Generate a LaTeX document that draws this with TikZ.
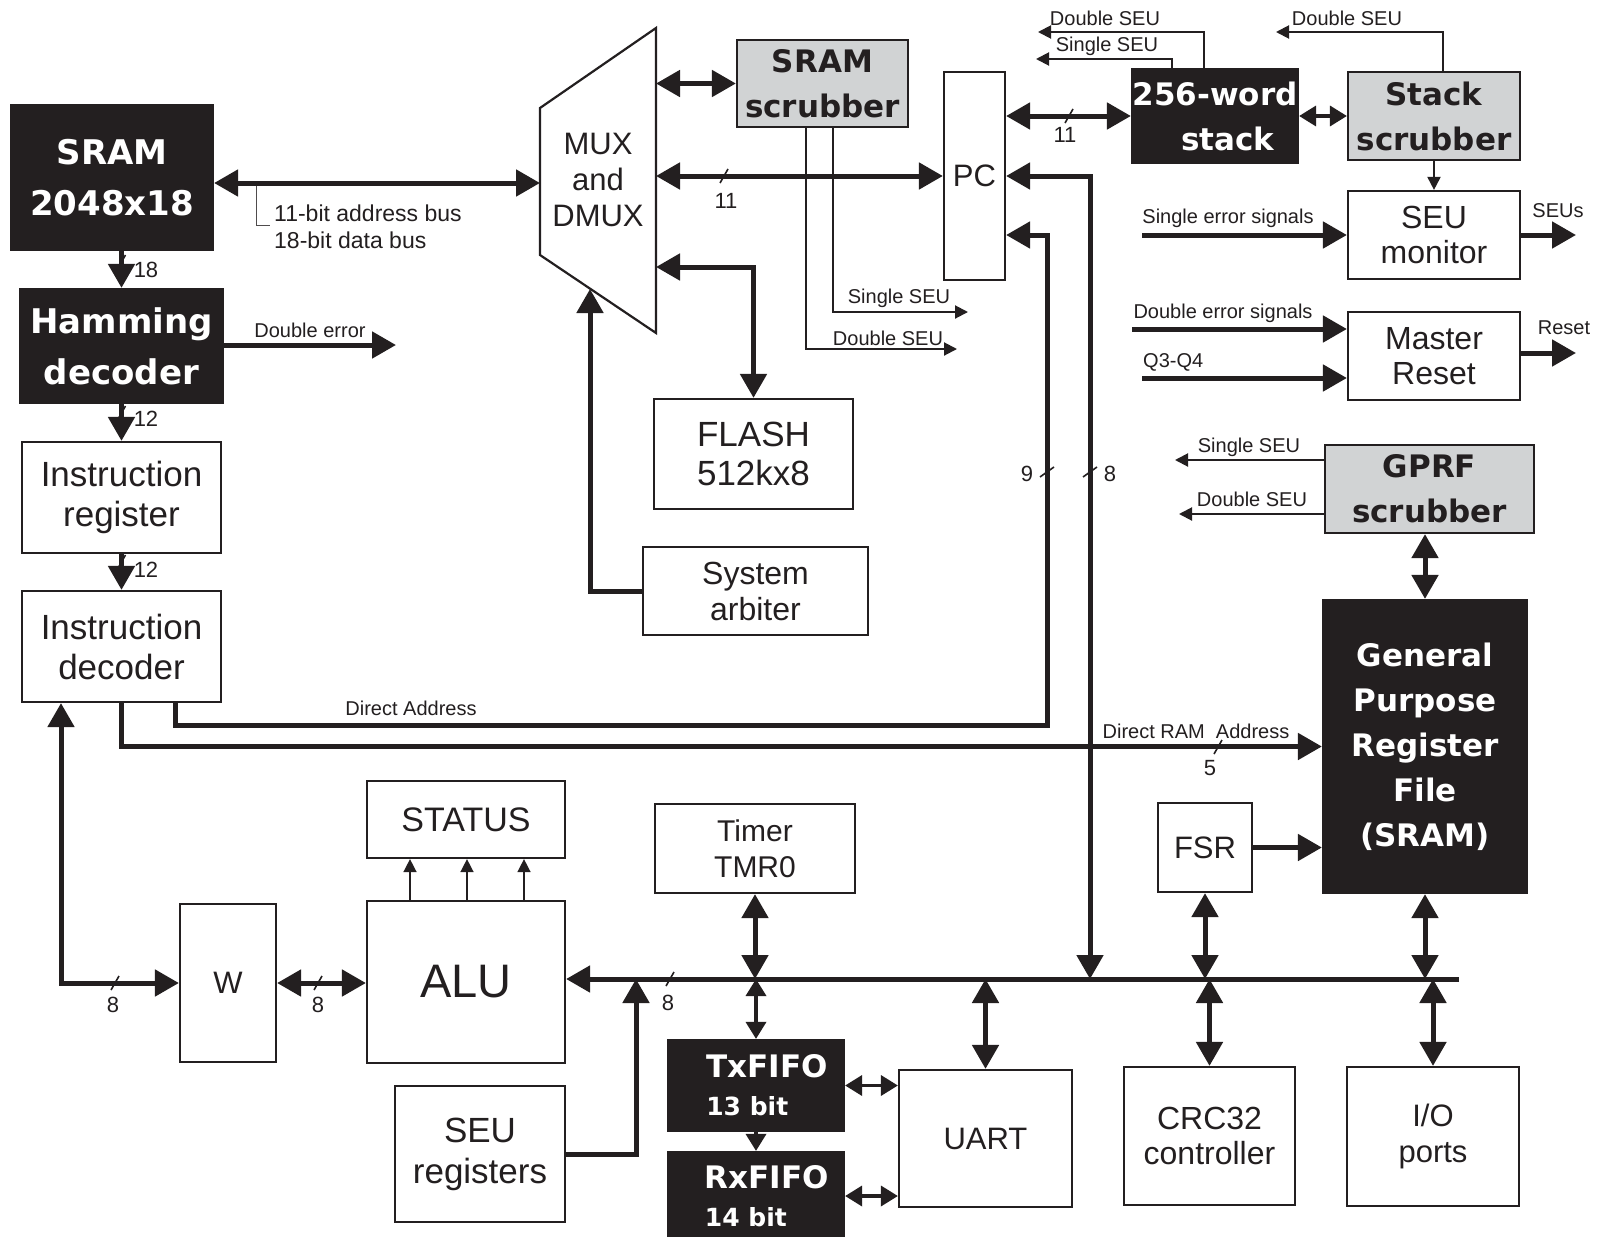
\documentclass[tikz,border=0pt]{standalone}
\usepackage{fontspec}
\setmainfont{Liberation Sans}
\newfontfamily\heavyfont{DejaVu Sans}
\usetikzlibrary{arrows.meta}
\definecolor{ink}{HTML}{231F20}
\definecolor{scrubgrey}{HTML}{D1D3D4}
\newcommand{\fsz}[2]{\fontsize{#1}{#2}\selectfont}
\newcommand{\heavy}[2]{\heavyfont\bfseries\fontsize{#1}{#2}\selectfont}
% bit-width slashes on horizontal and vertical buses
\newcommand{\bitslash}[1]{\draw[slash] ([shift={(-4pt,-7pt)}]#1) -- ([shift={(4pt,7pt)}]#1);}
\newcommand{\bitslashv}[1]{\draw[slash] ([shift={(-7pt,-5pt)}]#1) -- ([shift={(7pt,5pt)}]#1);}

\begin{document}
\begin{tikzpicture}[x=1pt, y=-1pt,
    block/.style={draw=ink, line width=2.2pt, fill=white, text=ink, align=center, inner sep=0pt},
    darkblock/.style={block, fill=ink, text=white},
    greyblock/.style={block, fill=scrubgrey},
    bus/.style={draw=ink, line width=5pt, >={Triangle[length=24pt,width=26pt]}},
    midbus/.style={draw=ink, line width=3.5pt, >={Triangle[length=17pt,width=20pt]}},
    sig/.style={draw=ink, line width=2pt, >={Triangle[length=13pt,width=13pt]}},
    slash/.style={draw=ink, line width=1.6pt},
    lbl/.style={text=ink, font=\fsz{20}{24}, inner sep=0pt},
    num/.style={text=ink, font=\fsz{22}{26}, inner sep=0pt}]

\useasboundingbox (0,0) rectangle (1599,1237);
\fill[white] (0,0) rectangle (1599,1237);

% program memory path
\node[darkblock, minimum width=202pt, minimum height=145pt, font=\heavy{34}{51}] (sram) at (112,177.5) {SRAM\\2048x18};
\node[darkblock, minimum width=203pt, minimum height=114pt, font=\heavy{34}{51}] (hamming) at (121.5,346) {Hamming\\decoder};
\node[block, minimum width=199pt, minimum height=111pt, font=\fsz{35}{40}] (ireg) at (121.5,497.5) {Instruction\\register};
\node[block, minimum width=199pt, minimum height=111pt, font=\fsz{35}{40}] (idec) at (121.5,646.5) {Instruction\\decoder};

% multiplexer
\draw[draw=ink, line width=2.2pt] (540,108) -- (656,28) -- (656,333) -- (540,255) -- cycle;
\node[text=ink, font=\fsz{31}{36}, align=center] (mux) at (598,180) {MUX\\and\\DMUX};
\coordinate (muxL) at (540,183);
\coordinate (muxSS) at (656,83.5);
\coordinate (muxPC) at (656,176);
\coordinate (muxFL) at (656,267);
\coordinate (muxB) at (590,289);

\node[greyblock, minimum width=171pt, minimum height=87pt, font=\heavy{31}{45}] (sramscrub) at (822.5,83.5) {SRAM\\scrubber};
\node[block, minimum width=61pt, minimum height=208pt, font=\fsz{31}{36}] (pc) at (974.5,176) {PC};
\node[block, minimum width=199pt, minimum height=110pt, font=\fsz{35}{39}] (flash) at (753.5,454) {FLASH\\512kx8};
\node[block, minimum width=225pt, minimum height=88pt, font=\fsz{32}{36}] (arbiter) at (755.5,591) {System\\arbiter};

% stack and monitors
\node[darkblock, minimum width=166pt, minimum height=94pt, font=\heavy{31}{45}] (stack) at (1215,116) {256-word\\\hspace*{26pt}stack};
\node[greyblock, minimum width=172pt, minimum height=88pt, font=\heavy{31}{45}] (stackscrub) at (1434,116) {Stack\\scrubber};
\node[block, minimum width=172pt, minimum height=88pt, font=\fsz{32}{35}] (seumon) at (1434,235) {SEU\\monitor};
\node[block, minimum width=172pt, minimum height=88pt, font=\fsz{32}{35}] (mreset) at (1434,356) {Master\\Reset};

% register file
\node[greyblock, minimum width=209pt, minimum height=88pt, font=\heavy{31}{45}] (gprfscrub) at (1429.5,489) {GPRF\\scrubber};
\node[darkblock, minimum width=204pt, minimum height=293pt, font=\heavy{31}{45}] (gprf) at (1425,746.5) {General\\Purpose\\Register\\File\\(SRAM)};
\node[block, minimum width=94pt, minimum height=89pt, font=\fsz{31}{36}] (fsr) at (1205,847.5) {FSR};

% peripherals
\node[block, minimum width=171pt, minimum height=138pt, font=\fsz{32}{35}] (crc) at (1209.5,1136) {CRC32\\controller};
\node[block, minimum width=172pt, minimum height=139pt, font=\fsz{31}{36}] (io) at (1433,1136.5) {I/O\\ports};
\node[block, minimum width=173pt, minimum height=137pt, font=\fsz{31}{36}] (uart) at (985.5,1138.5) {UART};
\node[block, minimum width=200pt, minimum height=89pt, font=\fsz{30}{36}] (timer) at (755,848.5) {Timer\\TMR0};
\node[darkblock, minimum width=176pt, minimum height=91pt, align=left, font=\heavy{31}{38}] (txfifo) at (756,1085.5) {\hspace*{22pt}TxFIFO\\\hspace*{22pt}{\fontsize{25}{38}\selectfont 13 bit}};
\node[darkblock, minimum width=176pt, minimum height=88pt, align=left, font=\heavy{31}{38}] (rxfifo) at (756,1196) {\hspace*{22pt}RxFIFO\\\hspace*{22pt}{\fontsize{25}{38}\selectfont 14 bit}};

% datapath
\node[block, minimum width=198pt, minimum height=162pt, font=\fsz{47}{50}] (alu) at (466,982) {ALU};
\node[block, minimum width=198pt, minimum height=77pt, font=\fsz{34}{38}] (status) at (466,819.5) {STATUS};
\node[block, minimum width=170pt, minimum height=136pt, font=\fsz{35}{41}] (seureg) at (480,1154) {SEU\\registers};
\node[block, minimum width=96pt, minimum height=158pt, font=\fsz{31}{36}] (wreg) at (228,983) {W};

% program memory connections
\draw[bus, <->] (sram.east |- muxL) -- (muxL);
\draw[draw=ink!80, line width=1pt] (256,186) -- (256,225) -- (270,225);
\node[text=ink, font=\fsz{23}{27}, inner sep=0pt, anchor=west] (addrlbl) at (274,213) {11-bit address bus};
\node[text=ink, font=\fsz{23}{27}, inner sep=0pt, anchor=west] (datalbl) at (274,240) {18-bit data bus};
\draw[bus, ->] (hamming.north |- sram.south) -- (hamming.north);
\bitslash{121.5,262}
\node[num] (w18) at (146,270) {18};
\coordinate (derrout) at (396,345);
\draw[bus, ->] (hamming.east |- derrout) -- (derrout);
\node[lbl] (derrlbl) at (310,330) {Double error};
\draw[bus, ->] (hamming.south) -- (ireg.north);
\bitslash{121.5,413}
\node[num] (w12a) at (146,419) {12};
\draw[bus, ->] (ireg.south) -- (idec.north);
\bitslash{121.5,562}
\node[num] (w12b) at (146,570) {12};

% multiplexer connections
\draw[bus, <->] (muxSS) -- (sramscrub.west);
\draw[bus, <->] (muxPC) -- (pc.west);
\bitslash{724,176}
\node[num] (w11a) at (726,201) {11};
\draw[bus, <->] (muxFL) -- (muxFL -| flash.north) -- (flash.north);
\draw[bus, ->] (arbiter.west) -- (arbiter.west -| muxB) -- (muxB);

% SRAM scrubber error outputs
\coordinate (sssingle) at (968,312);
\coordinate (ssdouble) at (957,349);
\draw[sig, ->] ([xshift=10.5pt]sramscrub.south) -- ([xshift=10.5pt]sramscrub.south |- sssingle) -- (sssingle);
\draw[sig, ->] ([xshift=-16.5pt]sramscrub.south) -- ([xshift=-16.5pt]sramscrub.south |- ssdouble) -- (ssdouble);
\node[lbl] (sssinglelbl) at (899,298) {Single SEU};
\node[lbl] (ssdoublelbl) at (888,338) {Double SEU};

% stack connections
\draw[bus, <->] (pc.east |- stack.west) -- (stack.west);
\bitslash{1069,116}
\node[num] (w11b) at (1065,135) {11};
\draw[midbus, <->] (stack.east) -- (stackscrub.west);
\coordinate (stdouble) at (1038,32);
\coordinate (stsingle) at (1036,59);
\coordinate (scdouble) at (1276,32);
\draw[sig, ->] ([xshift=-11pt]stack.north) -- ([xshift=-11pt]stack.north |- stdouble) -- (stdouble);
\draw[sig, ->] ([xshift=-43pt]stack.north) -- ([xshift=-43pt]stack.north |- stsingle) -- (stsingle);
\draw[sig, ->] ([xshift=9pt]stackscrub.north) -- ([xshift=9pt]stackscrub.north |- scdouble) -- (scdouble);
\node[lbl] (stdoublelbl) at (1105,18) {Double SEU};
\node[lbl] (stsinglelbl) at (1107,46) {Single SEU};
\node[lbl] (scdoublelbl) at (1347,18) {Double SEU};

% monitor inputs and outputs
\draw[sig, ->] (stackscrub.south) -- (seumon.north);
\coordinate (sesin) at (1142,235);
\coordinate (seuout) at (1576,235);
\coordinate (desin) at (1132,329);
\coordinate (qin) at (1142,378);
\coordinate (rstout) at (1576,353);
\draw[bus, ->] (sesin) -- (seumon.west);
\draw[bus, ->] (seumon.east) -- (seuout);
\draw[bus, ->] (desin) -- (desin -| mreset.west);
\draw[bus, ->] (qin) -- (qin -| mreset.west);
\draw[bus, ->] (rstout -| mreset.east) -- (rstout);
\node[lbl] (seslbl) at (1228,218) {Single error signals};
\node[lbl] (seuslbl) at (1558,211) {SEUs};
\node[lbl] (deslbl) at (1223,313) {Double error signals};
\node[lbl, anchor=west] (qlbl) at (1143,362) {Q3-Q4};
\node[lbl] (rstlbl) at (1564,328) {Reset};

% register file connections
\coordinate (gssingle) at (1175,460);
\coordinate (gsdouble) at (1179,514);
\draw[sig, ->] (gssingle -| gprfscrub.west) -- (gssingle);
\draw[sig, ->] (gsdouble -| gprfscrub.west) -- (gsdouble);
\node[lbl] (gssinglelbl) at (1249,447) {Single SEU};
\node[lbl] (gsdoublelbl) at (1252,499) {Double SEU};
\draw[bus, <->] (gprfscrub.south -| gprf.north) -- (gprf.north);
\draw[bus, ->] (fsr.east) -- (fsr.east -| gprf.west);

% direct addressing
\coordinate (dacorner) at (1047,725);
\coordinate (darise) at (1047,235);
\draw[bus, ->] ([xshift=53.5pt]idec.south) -- ([xshift=53.5pt]idec.south |- dacorner) -- (dacorner) -- (darise) -- (pc.east |- darise);
\node[lbl] (dalbl) at (411,708) {Direct Address};
\bitslashv{1047,472}
\node[num] (w9) at (1027,474) {9};
\draw[bus, ->] (idec.south) -- (idec.south |- gprf.west) -- (gprf.west);
\node[lbl] (dralbl) at (1196,731) {Direct RAM\ \ Address};
\bitslash{1218,747}
\node[num] (w5) at (1210,768) {5};

% data bus
\coordinate (busr) at (1459,979);
\coordinate (pcbus) at (1090,176);
\coordinate (srup) at (636,1154);
\draw[bus, ->] (busr) -- (busr -| alu.east);
\draw[bus, <->] (pc.east) -- (pcbus) -- (pcbus |- busr);
\bitslashv{1090,472}
\node[num] (w8pc) at (1110,474) {8};
\draw[bus, <->] (fsr.south) -- (fsr.south |- busr);
\draw[bus, <->] (gprf.south) -- (gprf.south |- busr);
\draw[bus, <->] (crc.north |- busr) -- (crc.north);
\draw[bus, <->] (io.north |- busr) -- (io.north);
\draw[bus, <->] (uart.north |- busr) -- (uart.north);
\draw[bus, <->] (timer.south) -- (timer.south |- busr);
\draw[midbus, <->] (txfifo.north |- busr) -- (txfifo.north);
\draw[midbus, ->] (txfifo.south) -- (rxfifo.north);
\draw[midbus, <->] (txfifo.east) -- (txfifo.east -| uart.west);
\draw[midbus, <->] (rxfifo.east) -- (rxfifo.east -| uart.west);
\draw[bus, ->] (seureg.east) -- (seureg.east -| srup) -- (srup |- busr);
\bitslash{670,979}
\node[num] (w8bus) at (668,1003) {8};

% working register and ALU
\draw[bus, <->] ([xshift=-60.5pt]idec.south) -- ([xshift=-60.5pt]idec.south |- wreg.west) -- (wreg.west);
\bitslash{115,983}
\node[num] (w8id) at (113,1005) {8};
\draw[bus, <->] (wreg.east) -- (wreg.east -| alu.west);
\bitslash{318,983}
\node[num] (w8w) at (318,1005) {8};
\foreach \dx in {-56,1,58}
  \draw[sig, line width=1.5pt, ->] ([xshift=\dx pt]alu.north) -- ([xshift=\dx pt]status.south);
\end{tikzpicture}
\end{document}
